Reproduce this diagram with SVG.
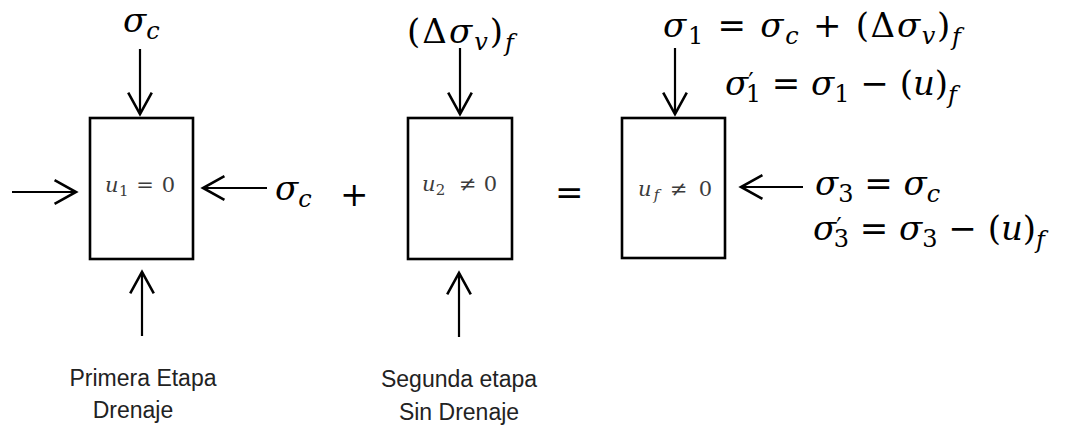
<svg xmlns="http://www.w3.org/2000/svg" width="1074" height="425" viewBox="0 0 1074 425">
<style>
.box{fill:#fff;stroke:#000;stroke-width:2.6}
.con{stroke:#000;stroke-width:2.2;fill:none;marker-end:url(#ah)}
.m{font-family:"DejaVu Serif","Liberation Serif",serif;font-size:34px;fill:#000}
.s{font-size:24px}
.i{font-style:italic}
.in{font-family:"DejaVu Serif","Liberation Serif",serif;font-size:21px;fill:#3c3c3c}
.lab{font-family:"Liberation Sans",Arial,sans-serif;font-size:23px;fill:#222;text-anchor:middle}
</style>
<defs>
<marker id="ah" markerUnits="userSpaceOnUse" markerWidth="30" markerHeight="30" viewBox="-24 -14 28 28" refX="0" refY="0" orient="auto">
<path d="M-20,-11 L0,0 L-20,11" fill="none" stroke="#000" stroke-width="2.4"/>
</marker>
</defs>
<rect width="1074" height="425" fill="#fff"/>
<g id="connectors">
<line class="con" x1="140" y1="49" x2="140" y2="114"/>
<line class="con" x1="12" y1="192" x2="76" y2="192"/>
<line class="con" x1="267" y1="188" x2="203" y2="188"/>
<line class="con" x1="142" y1="336" x2="142" y2="272"/>
<line class="con" x1="460" y1="48" x2="460" y2="114"/>
<line class="con" x1="459" y1="337" x2="459" y2="273"/>
<line class="con" x1="675" y1="48" x2="675" y2="114"/>
<line class="con" x1="803" y1="187" x2="741" y2="187"/>
</g>
<g id="box1">
<rect class="box" x="90" y="118" width="103" height="141"/>
<text class="in" x="105" y="192" textLength="70"><tspan class="i">u</tspan><tspan font-size="15" dy="4">1</tspan><tspan dy="-4"> = 0</tspan></text>
</g>
<g id="box2">
<rect class="box" x="408" y="118" width="104" height="141"/>
<text class="in" x="422" y="191" textLength="75"><tspan class="i">u</tspan><tspan font-size="15" dy="4">2</tspan><tspan dy="-4" xml:space="preserve">  ≠ 0</tspan></text>
</g>
<g id="box3">
<rect class="box" x="622" y="118" width="103" height="140"/>
<text class="in" x="638" y="196" textLength="74"><tspan class="i">u</tspan><tspan class="i" font-size="15" dy="4">f</tspan><tspan dy="-4"> ≠ 0</tspan></text>
</g>
<g id="labels">
<text class="m" x="123" y="32"><tspan class="i">σ</tspan><tspan class="i s" dy="7">c</tspan></text>
<text class="m" x="275" y="200"><tspan class="i">σ</tspan><tspan class="i s" dy="7">c</tspan></text>
<text class="m" x="340" y="206" font-size="28">+</text>
<text class="m" x="555" y="204" font-size="36">=</text>
<text class="m" x="407" y="43" textLength="107">(Δ<tspan class="i">σ</tspan><tspan class="i s" dy="7">v</tspan><tspan dy="-7">)</tspan><tspan class="i s" dy="8">f</tspan></text>
<text class="m" x="663" y="37" textLength="298"><tspan class="i">σ</tspan><tspan class="s" dy="7">1</tspan><tspan dy="-7"> = </tspan><tspan class="i">σ</tspan><tspan class="i s" dy="7">c</tspan><tspan dy="-7"> + (Δ</tspan><tspan class="i">σ</tspan><tspan class="i s" dy="7">v</tspan><tspan dy="-7">)</tspan><tspan class="i s" dy="8">f</tspan></text>
<text class="m" x="725" y="95"><tspan class="i">σ</tspan><tspan class="s" dy="-5">′</tspan><tspan class="s" dx="-8" dy="12">1</tspan><tspan dy="-7"> = </tspan><tspan class="i">σ</tspan><tspan class="s" dy="7">1</tspan><tspan dy="-7"> − (</tspan><tspan class="i">u</tspan><tspan>)</tspan><tspan class="i s" dy="8">f</tspan></text>
<text class="m" x="815" y="195"><tspan class="i">σ</tspan><tspan class="s" dy="7">3</tspan><tspan dy="-7"> = </tspan><tspan class="i">σ</tspan><tspan class="i s" dy="7">c</tspan></text>
<text class="m" x="813" y="240"><tspan class="i">σ</tspan><tspan class="s" dy="-5">′</tspan><tspan class="s" dx="-8" dy="12">3</tspan><tspan dy="-7"> = </tspan><tspan class="i">σ</tspan><tspan class="s" dy="7">3</tspan><tspan dy="-7"> − (</tspan><tspan class="i">u</tspan><tspan>)</tspan><tspan class="i s" dy="8">f</tspan></text>
<text class="lab" x="143" y="386">Primera Etapa</text>
<text class="lab" x="133" y="418">Drenaje</text>
<text class="lab" x="459" y="387">Segunda etapa</text>
<text class="lab" x="459" y="420">Sin Drenaje</text>
</g>
</svg>
